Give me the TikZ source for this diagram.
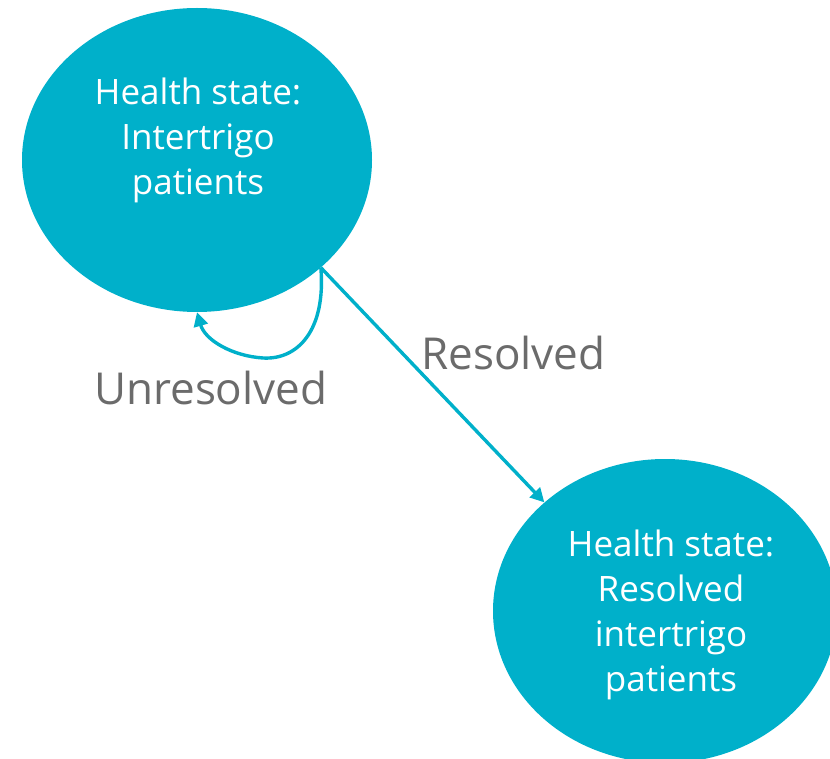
\documentclass[tikz,border=0pt]{standalone}
\usepackage{fontspec}
\setmainfont{Open Sans}
\usetikzlibrary{shapes.geometric,arrows.meta}
\definecolor{stateteal}{HTML}{00B0CA}
\definecolor{labelgray}{HTML}{6B6B6B}
\tikzset{
  statebubble/.style={ellipse, fill=stateteal, draw=none, inner sep=0pt,
    minimum width=350pt, minimum height=304pt},
  statetext/.style={text=white, align=center, inner sep=0pt,
    font=\fontsize{35}{45}\selectfont},
  edgelabel/.style={text=labelgray, inner sep=0pt,
    font=\fontsize{44}{50}\selectfont},
  transition/.style={draw=stateteal, line width=3.4pt,
    -{Triangle[length=14pt,width=14pt]}},
}
\begin{document}
\begin{tikzpicture}[x=1pt,y=-1pt]
  \useasboundingbox (0,0) rectangle (830,759);

  % health states
  \node[statebubble] (e1) at (197,160) {};
  \node[statebubble, minimum width=344pt] (e2) at (665,611) {};
  \node[statetext] (t1) at (198,140) {Health state:\\Intertrigo\\patients};
  \node[statetext] (t2) at (671,615) {Health state:\\Resolved\\intertrigo\\patients};

  % transitions
  \draw[transition] (e1.-41.3) -- (e2.138);
  \draw[transition] (e1.-41.3) .. controls (326,330) and (298,360) .. (263,358)
    .. controls (232,356) and (205,340) .. (e1.south);

  % transition labels
  \node[edgelabel, anchor=base west] (l1) at (421,370) {Resolved};
  \node[edgelabel, anchor=base west] (l2) at (94,404) {Unresolved};
\end{tikzpicture}
\end{document}
